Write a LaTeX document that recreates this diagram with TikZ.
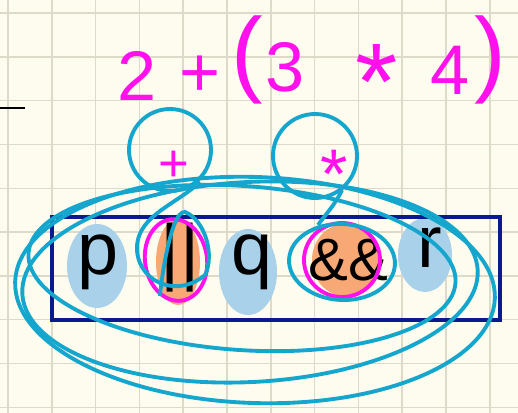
\documentclass[tikz,border=0pt]{standalone}
\usepackage{fontspec}
\setmainfont{Liberation Sans}
\usepackage{tikz}
\usetikzlibrary{positioning}
\definecolor{paper}{HTML}{FDFCEF}
\definecolor{gridc}{HTML}{DEDACA}
\definecolor{pen}{HTML}{FF10EC}
\definecolor{loopc}{HTML}{14A6CC}
\definecolor{navy}{HTML}{0A1A8E}
\definecolor{skyblob}{HTML}{A9D2EA}
\definecolor{peach}{HTML}{F7A874}

\begin{document}
\begin{tikzpicture}[x=0.02cm, y=-0.02cm,
    gridline/.style={gridc, line width=0.8pt},
    expr/.style={pen, inner sep=0pt, font=\fontsize{40}{40}\selectfont},
    paren/.style={pen, inner sep=0pt, font=\fontsize{54}{54}\selectfont},
    opmark/.style={pen, inner sep=0pt, font=\fontsize{30}{30}\selectfont},
    operand/.style={black, inner sep=0pt, font=\fontsize{42}{42}\selectfont},
    ring/.style={loopc, line width=2.2pt},
    mring/.style={pen, line width=2.2pt}]
    \useasboundingbox (0,0) rectangle (518,413);
    % 背景
    \fill[paper] (0,0) rectangle (518,413);
    \foreach \k in {0,...,11} \draw[gridline] ({8+43.8*\k},0) -- ({8+43.8*\k},413);
    \foreach \k in {0,...,9} \draw[gridline] (0,{13+43.8*\k}) -- (518,{13+43.8*\k});
    \draw[black, line width=1.4pt] (0,108) -- (25,108);

    % 表达式
    \node[expr] (two) at (137,76) {2};
    \node[expr] (plus) at (200,76) {+};
    \node[paren] (lparen) at (247,60) {(};
    \node[expr] (three) at (285,67) {3};
    \node[expr, font=\fontsize{62}{62}\selectfont] (times) at (377,82) {*};
    \node[expr] (four) at (450,70) {4};
    \node[paren] (rparen) at (490,60) {)};

    % 色块
    \fill[skyblob] (97,266) ellipse (30 and 42);
    \fill[skyblob] (248,272) ellipse (29 and 43);
    \fill[skyblob] (425,255) ellipse (27 and 37);
    \fill[peach] (178,262) ellipse (22 and 43);
    \fill[peach] (345,260) ellipse (33 and 36);

    % 框
    \draw[navy, line width=2.1pt] (52,217) rectangle (500,320);

    % 操作数
    \node[operand] (p) at (98,262) {p};
    \node[operand] (orop) at (180,258) {||};
    \node[operand] (q) at (252,262) {q};
    \node[operand, font=\fontsize{34}{34}\selectfont] (andop) at (348,260) {\&\&};
    \node[operand] (r) at (430,248) {r};

    % 运算符
    \node[opmark] (opplus) at (174,166) {+};
    \node[opmark, font=\fontsize{40}{40}\selectfont] (optimes) at (334,174) {*};

    % 圈
    \draw[mring, rotate around={8:(176,260)}] (176,260) ellipse (31 and 41);
    \draw[mring] (342,260) ellipse (38 and 37);
    \draw[ring] (opplus) ++(-4,-16) circle (41);
    \draw[ring] (optimes) ++(-19,-18) circle (42);
    \draw[ring] (200,182) .. controls (175,205) and (140,215) .. (137,245)
        .. controls (135,280) and (175,300) .. (205,275)
        .. controls (215,255) and (205,220) .. (185,212)
        .. controls (170,210) and (160,290) .. (160,296);
    \draw[ring] (342,190) .. controls (335,205) and (325,215) .. (318,225);
    \draw[ring, rotate around={-3:(342,262)}] (342,262) ellipse (53 and 38);
    \draw[ring, rotate around={-2:(255,290)}] (255,290) ellipse (240 and 113);
    \draw[ring, rotate around={3:(250,282)}] (250,282) ellipse (228 and 100);
    \draw[ring, rotate around={-4:(242,268)}] (242,268) ellipse (214 and 82);
\end{tikzpicture}
\end{document}
